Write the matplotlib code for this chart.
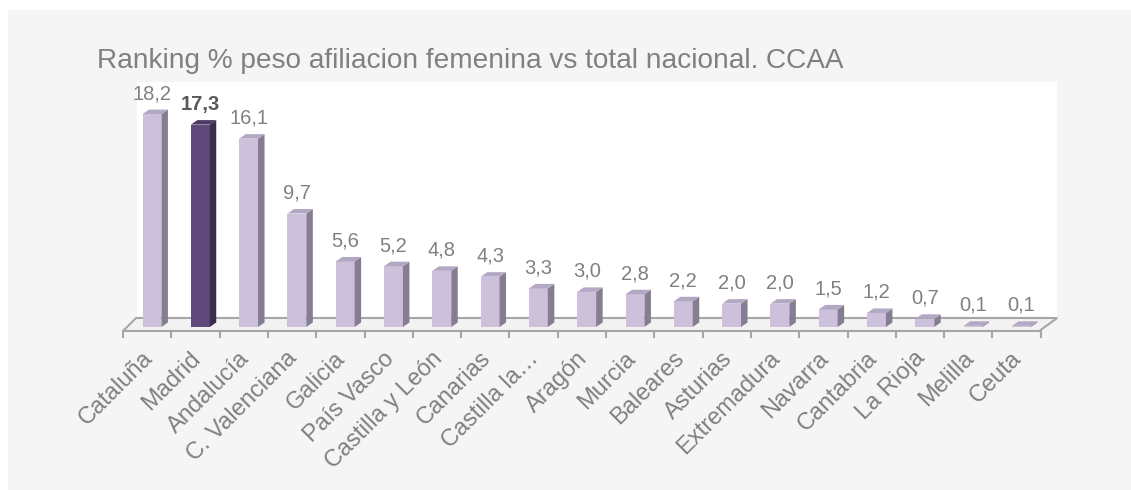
import matplotlib
matplotlib.use("Agg")
import matplotlib.pyplot as plt
from matplotlib.patches import Polygon, Rectangle

plt.rcParams['font.family'] = ['Liberation Sans', 'DejaVu Sans']

# data
regiones = ['Cataluña', 'Madrid', 'Andalucía', 'C. Valenciana', 'Galicia',
            'País Vasco', 'Castilla y León', 'Canarias', 'Castilla la…',
            'Aragón', 'Murcia', 'Baleares', 'Asturias', 'Extremadura',
            'Navarra', 'Cantabria', 'La Rioja', 'Melilla', 'Ceuta']
peso = [18.2, 17.3, 16.1, 9.7, 5.6, 5.2, 4.8, 4.3, 3.3, 3.0,
        2.8, 2.2, 2.0, 2.0, 1.5, 1.2, 0.7, 0.1, 0.1]
destacado = 'Madrid'
titulo = 'Ranking % peso afiliacion femenina vs total nacional. CCAA'

# colours (front, side, top)
claro = ('#ccc0da', '#857d91', '#b3a8c4')
oscuro = ('#5f497a', '#3b2d4e', '#4d3b65')
gris = '#808080'

fig = plt.figure(figsize=(11.31, 4.9), dpi=100)
fig.patch.set_facecolor('white')
fig.patches.append(Rectangle((8 / 1131, 0), 1, 1 - 10 / 490,
                             transform=fig.transFigure, facecolor='#f5f5f5',
                             edgecolor='none', zorder=-1))

ax = fig.add_axes([0, 0, 1, 1])
ax.set_axis_off()
# one category = 48.3 px, one unit = 11.7 px
ax.set_xlim(-152 / 48.3, (1131 - 152) / 48.3)
ax.set_ylim(-(490 - 327) / 11.7, 327 / 11.7)
ax.patch.set_alpha(0)

n = len(peso)
# back wall
ax.add_patch(Rectangle((-0.31, 0.77), 18.74 + 0.31, 20.94 - 0.77,
                       facecolor='white', edgecolor='none', zorder=1))
# floor
ax.add_patch(Polygon([(-0.6, -0.34), (n - 0.6 - 0.03, -0.34), (n - 0.26, 0.77), (-0.33, 0.77)],
                     closed=True, facecolor='#f2f2f2', edgecolor='#a6a6a6', lw=1.5, zorder=2))
for k in range(n + 1):
    ax.plot([k - 0.6, k - 0.6], [-0.34, -0.86], color='#a6a6a6', lw=1.5, zorder=2)

w = 0.39    # front width
dx = 0.135  # depth in x
dy = 0.385  # depth in y
for i, (nombre, v) in enumerate(zip(regiones, peso)):
    front, side, top = oscuro if nombre == destacado else claro
    x0 = i - w / 2
    x1 = i + w / 2
    ax.bar(i, v, width=w, color=front, edgecolor='none', zorder=3)
    ax.add_patch(Polygon([(x1, 0), (x1 + dx, dy), (x1 + dx, v + dy), (x1, v)],
                         closed=True, facecolor=side, edgecolor='none', zorder=3))
    ax.add_patch(Polygon([(x0, v), (x1, v), (x1 + dx, v + dy), (x0 + dx, v + dy)],
                         closed=True, facecolor=top, edgecolor='none', zorder=3))
    etiqueta = f'{v:.1f}'.replace('.', ',')
    if nombre == destacado:
        ax.text(i, v + 1.28, etiqueta, ha='center', va='baseline', fontsize=14.5,
                color='#595959', fontweight='bold', zorder=4)
    else:
        ax.text(i, v + 1.28, etiqueta, ha='center', va='baseline', fontsize=14.5,
                color=gris, zorder=4)
    ax.text(i - 0.22, -1.75, nombre, rotation=45, ha='right', va='top',
            rotation_mode='anchor', fontsize=17, color=gris, zorder=4)

fig.text(97 / 1131, 1 - 68 / 490, titulo, fontsize=20.2, color=gris,
         ha='left', va='baseline')

fig.savefig('out.png', dpi=100)
